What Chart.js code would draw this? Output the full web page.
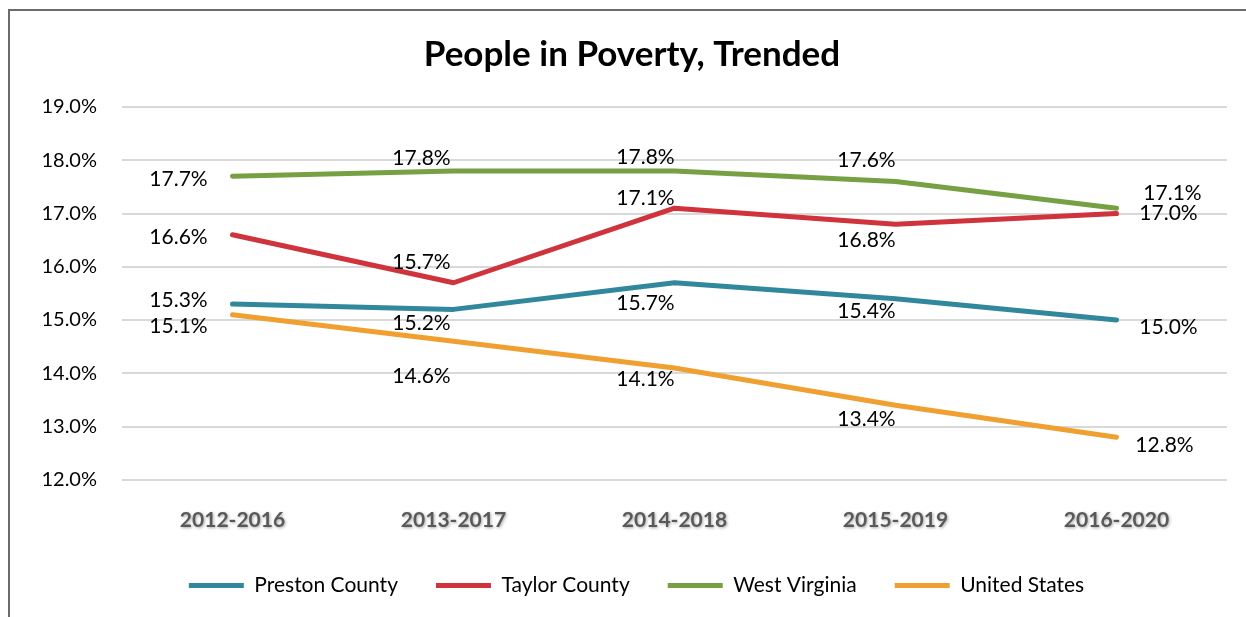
<!DOCTYPE html>
<html>
<head>
<meta charset="utf-8">
<script src="https://cdn.jsdelivr.net/npm/chart.js@4/dist/chart.umd.min.js"></script>
<style>
  html, body { margin: 0; padding: 0; background: #fff; }
  #wrap { width: 1246px; height: 617px; position: relative; }
</style>
</head>
<body>
<div id="wrap"><canvas id="myChart" width="1246" height="617"></canvas></div>
<script>
// chart data
const periods = ["2012-2016", "2013-2017", "2014-2018", "2015-2019", "2016-2020"];
const preston = [15.3, 15.2, 15.7, 15.4, 15.0];
const taylor = [16.6, 15.7, 17.1, 16.8, 17.0];
const westVirginia = [17.7, 17.8, 17.8, 17.6, 17.1];
const unitedStates = [15.1, 14.6, 14.1, 13.4, 12.8];
const yTicks = [12, 13, 14, 15, 16, 17, 18, 19];

// where each data label sits relative to its point (dx, dy)
const labelOffsets = [
  [[-54, -4], [-32, 14], [-29, 20], [-29, 13], [52, 7]],
  [[-54, 2], [-32, -21], [-29, -10], [-29, 16], [52, 0]],
  [[-54, 3], [-32, -13], [-29, -14], [-29, -21], [56, -15]],
  [[-54, 12], [-32, 35], [-29, 11], [-29, 14], [48, 8]]
];

const FONT = "Lato, 'Open Sans', sans-serif";

const frame = {
  id: 'frame',
  afterLayout(chart) {
    // title and legend sit a bit right of the plot centre in the original
    chart.titleBlock.left = 37;
    chart.legend.left += 46;
  },
  beforeDraw(chart) {
    const c = chart.ctx;
    c.save();
    c.fillStyle = '#fff';
    c.fillRect(0, 0, chart.width, chart.height);
    c.strokeStyle = '#6b6b6b';
    c.lineWidth = 2;
    c.beginPath();
    c.moveTo(9, chart.height);
    c.lineTo(9, 10);
    c.lineTo(chart.width, 10);
    c.stroke();
    c.restore();
  }
};

const pointLabels = {
  id: 'pointLabels',
  afterDatasetsDraw(chart) {
    const c = chart.ctx;
    c.save();
    c.font = "21px " + FONT;
    c.fillStyle = '#000';
    c.textAlign = 'center';
    c.textBaseline = 'middle';
    chart.data.datasets.forEach((ds, i) => {
      chart.getDatasetMeta(i).data.forEach((pt, j) => {
        const off = labelOffsets[i][j];
        c.fillText(ds.data[j].toFixed(1) + '%', pt.x + off[0], pt.y + off[1]);
      });
    });
    c.restore();
  }
};

// x labels drawn with a soft shadow like the original
const shadowTicks = {
  id: 'shadowTicks',
  afterDraw(chart) {
    const x = chart.scales.x;
    const c = chart.ctx;
    c.save();
    c.font = "bold 21px " + FONT;
    c.textAlign = 'center';
    c.textBaseline = 'middle';
    c.shadowColor = 'rgba(0,0,0,0.35)';
    c.shadowBlur = 3;
    c.shadowOffsetX = 1;
    c.shadowOffsetY = 1;
    c.fillStyle = '#595959';
    periods.forEach((p, i) => {
      c.fillText(p, x.getPixelForTick(i), chart.chartArea.bottom + 40);
    });
    c.restore();
  }
};

const mk = (label, data, color) => ({
  label: label,
  data: data,
  borderColor: color,
  backgroundColor: color,
  borderWidth: 5,
  borderCapStyle: 'round',
  borderJoinStyle: 'round',
  pointRadius: 0,
  pointHoverRadius: 0,
  tension: 0,
  fill: false
});

const ctx = document.getElementById('myChart').getContext('2d');
const myChart = new Chart(ctx, {
  type: 'line',
  data: {
    labels: periods,
    datasets: [
      mk("Preston County", preston, "#31879b"),
      mk("Taylor County", taylor, "#cf333c"),
      mk("West Virginia", westVirginia, "#77a043"),
      mk("United States", unitedStates, "#f0a030")
    ]
  },
  options: {
    responsive: false,
    animation: false,
    events: [],
    layout: { padding: { left: 0, right: 19, top: 0, bottom: 11 } },
    plugins: {
      title: {
        display: true,
        text: "People in Poverty, Trended",
        color: '#000',
        font: { family: FONT, size: 35, weight: 'bold' },
        padding: { top: 34, bottom: 31 }
      },
      legend: {
        position: 'bottom',
        labels: {
          usePointStyle: true,
          pointStyle: 'line',
          pointStyleWidth: 55,
          boxHeight: 21,
          padding: 38,
          color: '#000',
          font: { family: FONT, size: 21 }
        }
      },
      tooltip: { enabled: false }
    },
    scales: {
      x: {
        offset: true,
        grid: { display: false, drawTicks: false },
        border: { display: false },
        ticks: {
          color: 'rgba(0,0,0,0)',
          padding: 16,
          font: { family: FONT, size: 21, weight: 'bold' }
        }
      },
      y: {
        min: yTicks[0],
        max: yTicks[yTicks.length - 1],
        afterFit(scale) { scale.width = 122; },
        afterBuildTicks(scale) { scale.ticks = yTicks.map(v => ({ value: v })); },
        grid: { color: '#d9d9d9', lineWidth: 2, drawTicks: false },
        border: { display: false },
        ticks: {
          padding: 25,
          color: '#000',
          font: { family: FONT, size: 20 },
          callback: v => v.toFixed(1) + '%'
        }
      }
    }
  },
  plugins: [frame, pointLabels, shadowTicks]
});
</script>
</body>
</html>
